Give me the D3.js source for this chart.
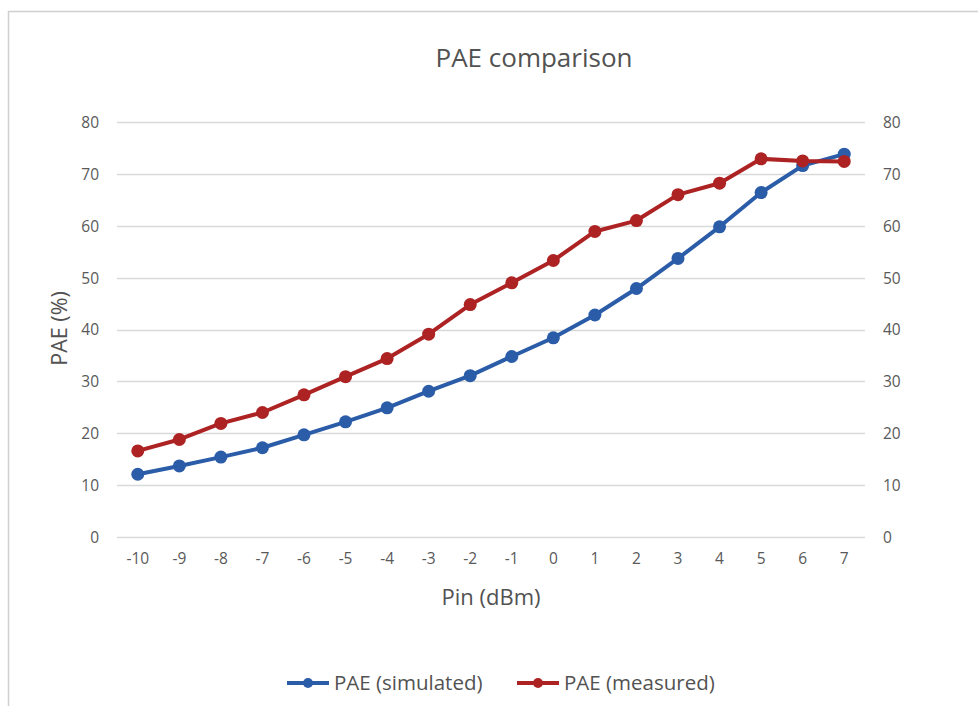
<!DOCTYPE html>
<html>
<head>
<meta charset="utf-8">
<script src="https://cdn.jsdelivr.net/npm/d3@7"></script>
<style>
  html, body { margin: 0; padding: 0; background: #fff; }
  svg { display: block; }
  text { font-family: "Open Sans", "Noto Sans", sans-serif; fill: #595959; }
</style>
</head>
<body>
<svg id="chart" width="978" height="706"></svg>
<script>
const categories = ["-10","-9","-8","-7","-6","-5","-4","-3","-2","-1","0","1","2","3","4","5","6","7"];
const simulated = [12.1, 13.7, 15.4, 17.2, 19.7, 22.2, 24.9, 28.1, 31.1, 34.8, 38.4, 42.8, 47.9, 53.7, 59.8, 66.4, 71.6, 73.8];
const measured  = [16.6, 18.8, 21.9, 24.0, 27.4, 30.9, 34.4, 39.1, 44.8, 49.0, 53.3, 58.9, 61.0, 66.0, 68.2, 72.9, 72.5, 72.4];
const yTicks = [0, 10, 20, 30, 40, 50, 60, 70, 80];
const seriesNames = ["PAE (simulated)", "PAE (measured)"];
const seriesColors = ["#2A5CA8", "#AD2323"];

const svg = d3.select("#chart");
const W = 978, H = 706;

// chart border
svg.append("rect")
  .attr("x", 8.5).attr("y", 11.5)
  .attr("width", W + 10).attr("height", H + 10)
  .attr("fill", "#fff").attr("stroke", "#d0d0d0").attr("stroke-width", 1.5);

const plot = { left: 117, right: 865, top: 122, bottom: 537 };

const x = d3.scaleBand().domain(categories).range([plot.left, plot.right]).padding(0);
const y = d3.scaleLinear().domain([0, 80]).range([plot.bottom, plot.top]);

const tickFont = 15.5;
const textColor = "#525252";

// gridlines
svg.append("g")
  .selectAll("line").data(yTicks).join("line")
  .attr("x1", plot.left).attr("x2", plot.right)
  .attr("y1", d => Math.round(y(d)) + 0.5).attr("y2", d => Math.round(y(d)) + 0.5)
  .attr("stroke", "#d9d9d9").attr("stroke-width", 1.3);

// left axis
const leftAxis = svg.append("g")
  .attr("transform", `translate(${plot.left - 18},0)`)
  .call(d3.axisLeft(y).tickValues(yTicks).tickSize(0).tickPadding(0));
leftAxis.select(".domain").remove();
leftAxis.selectAll("text").attr("font-size", tickFont).style("font-family", '"Open Sans", sans-serif').attr("fill", textColor).attr("dy", "0.35em");

// right axis
const rightAxis = svg.append("g")
  .attr("transform", `translate(${plot.right + 18},0)`)
  .call(d3.axisRight(y).tickValues(yTicks).tickSize(0).tickPadding(0));
rightAxis.select(".domain").remove();
rightAxis.selectAll("text").attr("font-size", tickFont).style("font-family", '"Open Sans", sans-serif').attr("fill", textColor).attr("dy", "0.35em");

// bottom axis
const bottomAxis = svg.append("g")
  .attr("transform", `translate(0,${plot.bottom + 16})`)
  .call(d3.axisBottom(x).tickSize(0).tickPadding(0));
bottomAxis.select(".domain").remove();
bottomAxis.selectAll("text").attr("font-size", tickFont).style("font-family", '"Open Sans", sans-serif').attr("fill", textColor).attr("dy", "0.71em");

// title
svg.append("text")
  .attr("x", 534).attr("y", 67)
  .attr("text-anchor", "middle")
  .attr("font-size", 26)
  .attr("fill", textColor).style("fill", textColor)
  .text("PAE comparison");

// axis titles
svg.append("text")
  .attr("transform", `translate(67,${(plot.top + plot.bottom) / 2 - 1}) rotate(-90)`)
  .attr("text-anchor", "middle")
  .attr("font-size", 21.5)
  .style("fill", textColor)
  .text("PAE (%)");

svg.append("text")
  .attr("x", 491).attr("y", 605)
  .attr("text-anchor", "middle")
  .attr("font-size", 22)
  .style("fill", textColor)
  .text("Pin (dBm)");

// series
const allSeries = [simulated, measured];
const line = d3.line()
  .x((d, i) => x(categories[i]) + x.bandwidth() / 2)
  .y(d => y(d));

allSeries.forEach((vals, si) => {
  const g = svg.append("g");
  g.append("path")
    .datum(vals)
    .attr("d", line)
    .attr("fill", "none")
    .attr("stroke", seriesColors[si])
    .attr("stroke-width", 4)
    .attr("stroke-linejoin", "round")
    .attr("stroke-linecap", "round");
  g.selectAll("circle").data(vals).join("circle")
    .attr("cx", (d, i) => x(categories[i]) + x.bandwidth() / 2)
    .attr("cy", d => y(d))
    .attr("r", 6.5)
    .attr("fill", seriesColors[si]);
});

// legend
const legendItems = [
  { x: 287, name: seriesNames[0], color: seriesColors[0] },
  { x: 517, name: seriesNames[1], color: seriesColors[1] }
];
const ly = 683;
legendItems.forEach(it => {
  const g = svg.append("g");
  g.append("line")
    .attr("x1", it.x).attr("x2", it.x + 42)
    .attr("y1", ly).attr("y2", ly)
    .attr("stroke", it.color).attr("stroke-width", 4);
  g.append("circle")
    .attr("cx", it.x + 21).attr("cy", ly).attr("r", 5)
    .attr("fill", it.color);
  g.append("text")
    .attr("x", it.x + 47).attr("y", ly)
    .attr("dy", "0.35em")
    .attr("font-size", 20.5)
    .style("fill", textColor)
    .text(it.name);
});
</script>
</body>
</html>
